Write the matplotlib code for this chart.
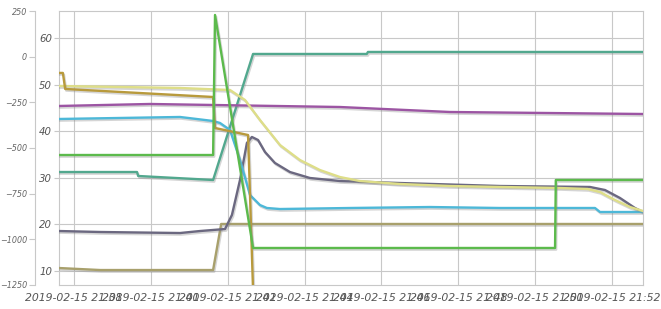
import matplotlib

matplotlib.use("Agg")
import matplotlib.dates as mdates
import matplotlib.patheffects as pe
import matplotlib.pyplot as plt
import pandas as pd

BASE = pd.Timestamp("2019-02-15 21:00:00")

# minutes after 21:00, values on the inner (right-hand) scale
brown_t = [37.61, 37.71, 37.77, 41.62, 41.67, 42.53, 42.66]
brown_v = [52.5, 52.5, 49.06, 47.34, 40.69, 39.18, 5.9]

pale_t = [37.61, 40.76, 42.06, 42.45, 42.84, 43.36, 43.88, 44.40, 44.92, 45.44,
          46.48, 47.78, 49.09, 50.65, 51.37, 51.69, 52.08, 52.47, 52.81]
pale_v = [49.7, 49.27, 48.84, 46.7, 42.4, 37.04, 33.82, 31.67, 30.17, 29.31,
          28.67, 28.24, 28.03, 27.81, 27.6, 26.95, 25.24, 23.73, 22.88]

purple_t = [37.61, 39.98, 44.92, 47.78, 52.81]
purple_v = [45.41, 45.84, 45.19, 44.12, 43.69]

blue_t = [37.61, 40.76, 41.62, 41.80, 42.06, 42.32, 42.58, 42.84, 43.02, 43.36,
          45.18, 47.26, 49.09, 51.56, 51.69, 52.81]
blue_v = [42.62, 43.05, 42.19, 41.76, 40.26, 33.82, 26.31, 24.16, 23.52, 23.3,
          23.52, 23.73, 23.52, 23.52, 22.66, 22.66]

green_t = [37.61, 41.62, 41.67, 42.66, 50.52, 50.54, 52.81]
green_v = [34.89, 34.89, 64.94, 14.94, 14.94, 29.53, 29.53]

teal_t = [37.61, 39.64, 39.67, 41.62, 42.66, 45.62, 45.65, 52.81]
teal_v = [31.24, 31.24, 30.39, 29.53, 56.57, 56.57, 57.0, 57.0]

grey_t = [37.61, 38.68, 40.76, 41.28, 41.93, 42.11, 42.32, 42.50, 42.63, 42.79,
          42.97, 43.23, 43.62, 44.14, 44.92, 46.48, 49.09, 51.43, 51.82, 52.21,
          52.60, 52.81]
grey_v = [18.58, 18.37, 18.15, 18.58, 19.01, 22.02, 29.53, 37.47, 38.76, 38.11,
          35.54, 33.18, 31.24, 29.96, 29.31, 28.88, 28.24, 28.03, 27.38, 25.67,
          23.52, 22.66]

olive_t = [37.61, 38.68, 41.62, 41.83, 52.81]
olive_v = [10.64, 10.21, 10.21, 20.09, 20.09]

inner_ticks = [10, 20, 30, 40, 50, 60]
outer_ticks = [250, 0, -250, -500, -750, -1000, -1250]

series = [
    (olive_t, olive_v, "#a8a06c"),
    (grey_t, grey_v, "#6b6880"),
    (teal_t, teal_v, "#52a88e"),
    (purple_t, purple_v, "#9c55a3"),
    (blue_t, blue_v, "#4db8d8"),
    (pale_t, pale_v, "#dede88"),
    (brown_t, brown_v, "#b89a3c"),
    (green_t, green_v, "#5cba4c"),
]


def to_time(mins):
    return BASE + pd.to_timedelta(mins, unit="min")


fig = plt.figure(figsize=(6.61, 3.09), dpi=100)
ax = fig.add_axes([0.0893, 0.0777, 0.8835, 0.8867])
ax2 = ax.twinx()

shadow = [pe.SimpleLineShadow(offset=(0.8, -1.2), shadow_color="#888888", alpha=0.35),
          pe.Normal()]
for t, v, c in series:
    ax.plot(to_time(t), v, color=c, lw=1.7, path_effects=shadow, zorder=3)

ax.set_xlim(to_time(37.61), to_time(52.81))
ax.set_ylim(7.0, 65.79)
ax.set_yticks(inner_ticks)
ax.xaxis.set_major_locator(mdates.MinuteLocator(byminute=range(0, 60, 2)))
ax.xaxis.set_major_formatter(mdates.DateFormatter("%Y-%m-%d %H:%M"))
ax.grid(True, color="#c8c8c8", lw=0.8)
ax.set_axisbelow(True)
for s in ax.spines.values():
    s.set_color("#c8c8c8")
ax.tick_params(axis="x", length=0, pad=6, labelsize=7.8, labelcolor="#555555")
ax.tick_params(axis="y", length=3.5, color="#c8c8c8", pad=1.5, labelsize=7.3,
               labelcolor="#555555")
for lab in ax.get_xticklabels() + ax.get_yticklabels():
    lab.set_style("italic")

ax2.set_ylim(-1250, 250)
ax2.set_yticks(outer_ticks)
ax2.yaxis.set_ticks_position("left")
ax2.yaxis.set_label_position("left")
ax2.spines["left"].set_position(("outward", 17.5))
ax2.spines["left"].set_color("#c8c8c8")
for k in ("right", "top", "bottom"):
    ax2.spines[k].set_visible(False)
ax2.tick_params(axis="y", length=4, color="#c8c8c8", pad=1.5, labelsize=5.8,
                labelcolor="#666666")
for lab in ax2.get_yticklabels():
    lab.set_style("italic")

fig.savefig("out.png", dpi=100)
